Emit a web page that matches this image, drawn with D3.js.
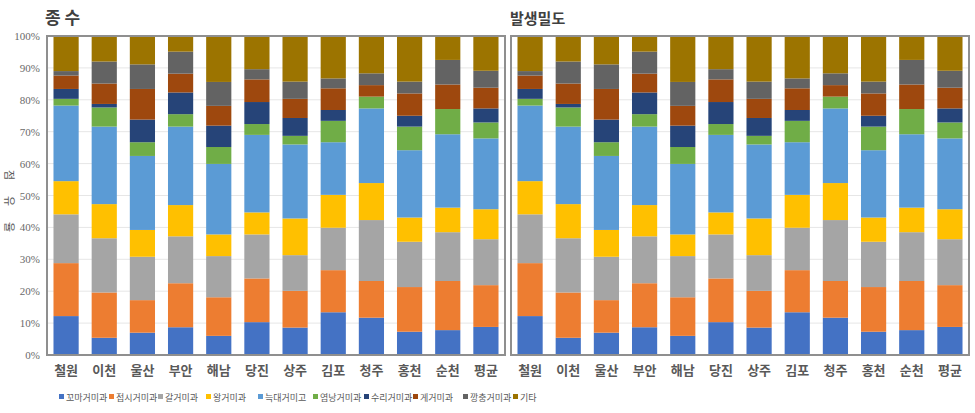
<!DOCTYPE html>
<html><head><meta charset="utf-8">
<script src="https://cdn.jsdelivr.net/npm/d3@7"></script>
<style>
html,body{margin:0;padding:0;background:#fff;}
svg{display:block;}
</style></head>
<body>
<svg id="chart" width="975" height="413"></svg>
<script>
const categories = ["철원","이천","울산","부안","해남","당진","상주","김포","청주","홍천","순천","평균"];
const seriesNames = ["꼬마거미과","접시거미과","갈거미과","왕거미과","늑대거미고","염낭거미과","수리거미과","게거미과","깡충거미과","기타"];
const seriesColors = ["#4472C4","#ED7D31","#A5A5A5","#FFC000","#5B9BD5","#70AD47","#264478","#9E480E","#636363","#9C7400"];
const yTicks = [0,10,20,30,40,50,60,70,80,90,100];
const panelTitles = ["종 수","발생밀도"];
const yTitleChars = ["점","유","율"];

// percentage per family (rows = categories, columns = series)
const speciesValues = [
  [12.2,16.6,15.3,10.4,23.7,2.1,3.1,4.2,1.4,11.0],
  [5.4,14.2,17.0,10.7,24.3,6.0,1.1,6.4,6.9,8.0],
  [7.0,10.2,13.6,8.4,23.2,4.3,7.1,9.6,7.7,8.9],
  [8.7,13.8,14.7,9.8,24.6,3.9,6.8,5.9,6.9,4.9],
  [6.0,12.1,12.9,6.8,22.1,5.3,6.7,6.2,7.5,14.4],
  [10.3,13.7,13.8,6.9,24.3,3.4,6.9,7.1,3.2,10.4],
  [8.6,11.5,11.2,11.5,23.2,2.7,5.6,6.0,5.4,14.3],
  [13.4,13.2,13.3,10.3,16.5,6.7,3.4,6.8,3.1,13.3],
  [11.7,11.5,19.1,11.6,23.4,3.7,0,3.6,3.7,11.7],
  [7.3,14.0,14.2,7.6,21.1,7.4,3.4,7.0,3.7,14.3],
  [7.8,15.4,15.3,7.7,23.0,7.9,0,7.7,7.7,7.5],
  [8.8,13.1,14.4,9.4,22.2,5.0,4.4,6.5,5.3,10.9]
];
const densityValues = [
  [12.2,16.6,15.3,10.4,23.7,2.1,3.1,4.2,1.4,11.0],
  [5.4,14.2,17.0,10.7,24.3,6.0,1.1,6.4,6.9,8.0],
  [7.0,10.2,13.6,8.4,23.2,4.3,7.1,9.6,7.7,8.9],
  [8.7,13.8,14.7,9.8,24.6,3.9,6.8,5.9,6.9,4.9],
  [6.0,12.1,12.9,6.8,22.1,5.3,6.7,6.2,7.5,14.4],
  [10.3,13.7,13.8,6.9,24.3,3.4,6.9,7.1,3.2,10.4],
  [8.6,11.5,11.2,11.5,23.2,2.7,5.6,6.0,5.4,14.3],
  [13.4,13.2,13.3,10.3,16.5,6.7,3.4,6.8,3.1,13.3],
  [11.7,11.5,19.1,11.6,23.4,3.7,0,3.6,3.7,11.7],
  [7.3,14.0,14.2,7.6,21.1,7.4,3.4,7.0,3.7,14.3],
  [7.8,15.4,15.3,7.7,23.0,7.9,0,7.7,7.7,7.5],
  [8.8,13.1,14.4,9.4,22.2,5.0,4.4,6.5,5.3,10.9]
];

const svg = d3.select("#chart");
const plotTop = 36, plotBottom = 355;
const panels = [
  {x0:47, x1:505, values:speciesValues, title:panelTitles[0], tx:45, axis:true},
  {x0:511, x1:969, values:densityValues, title:panelTitles[1], tx:510, axis:false}
];
const y = d3.scaleLinear().domain([0,100]).range([plotBottom, plotTop]);
const color = d3.scaleOrdinal().domain(seriesNames).range(seriesColors);
const stack = d3.stack().keys(d3.range(seriesNames.length)).offset(d3.stackOffsetExpand);

panels.forEach(p => {
  const x = d3.scaleBand().domain(categories).range([p.x0, p.x1]).paddingInner(0.34).paddingOuter(0.17);
  const g = svg.append("g");
  g.append("g").selectAll("line").data(yTicks.slice(1,-1)).join("line")
    .attr("x1", p.x0).attr("x2", p.x1)
    .attr("y1", d => y(d)).attr("y2", d => y(d))
    .attr("stroke", "#e6e6e6").attr("stroke-width", 1);
  const rows = p.values.map(r => Object.assign({}, r));
  const stacked = stack(rows);
  g.append("g").selectAll("g").data(stacked).join("g")
    .attr("fill", (d,i) => seriesColors[i])
    .selectAll("rect").data(d => d.map((v,j) => ({v, c: categories[j]}))).join("rect")
    .attr("x", d => x(d.c))
    .attr("width", x.bandwidth())
    .attr("y", d => y(d.v[1]*100))
    .attr("height", d => Math.max(0, y(d.v[0]*100) - y(d.v[1]*100)));
  g.append("rect").attr("x", p.x0).attr("y", plotTop).attr("width", p.x1 - p.x0).attr("height", plotBottom - plotTop)
    .attr("fill", "none").attr("stroke", "#8f8f8f").attr("stroke-width", 2);
  const xa = g.append("g").attr("transform", `translate(0,${plotBottom})`)
    .call(d3.axisBottom(x).tickSize(0).tickPadding(11));
  xa.select(".domain").remove();
  xa.selectAll("text").attr("font-family", "'Noto Sans CJK KR', sans-serif")
    .attr("font-size", 13).attr("font-weight", "bold").attr("fill", "#595959");
  if (p.axis) {
    const ya = g.append("g").attr("transform", `translate(${p.x0},0)`)
      .call(d3.axisLeft(y).tickValues(yTicks).tickSize(0).tickPadding(7).tickFormat(d => d + "%"));
    ya.select(".domain").remove();
    ya.selectAll("text").attr("font-family", "'Liberation Serif', serif")
      .attr("font-size", 11).attr("fill", "#6a6a6a");
  }
  g.append("text").attr("x", p.tx).attr("y", 24).text(p.title)
    .attr("font-family", "'Noto Sans CJK KR', sans-serif").attr("font-weight", "bold")
    .attr("font-size", p.axis ? 17 : 15).attr("fill", "#404040");
});

// y-axis title: stacked characters, each rotated
const yTitleY = [175, 201, 227];
svg.append("g").selectAll("text").data(yTitleChars).join("text")
  .attr("transform", (d,i) => `translate(10,${yTitleY[i]}) rotate(90)`)
  .attr("text-anchor", "middle").attr("dominant-baseline", "central")
  .attr("font-family", "'Noto Sans CJK KR', sans-serif").attr("font-size", 11)
  .attr("fill", "#595959").text(d => d);

const legendX = [59,109,158,206,258,313,364,413,463,513];
const lg = svg.append("g").selectAll("g").data(seriesNames).join("g")
  .attr("transform", (d,i) => `translate(${legendX[i]},397)`);
lg.append("rect").attr("x", 0).attr("y", -3).attr("width", 5).attr("height", 5).attr("fill", d => color(d));
lg.append("text").attr("x", 7).attr("y", 0).attr("dominant-baseline", "central")
  .attr("font-family", "'Noto Sans CJK KR', sans-serif").attr("font-size", 9)
  .attr("fill", "#595959").text(d => d);
</script>
</body></html>
